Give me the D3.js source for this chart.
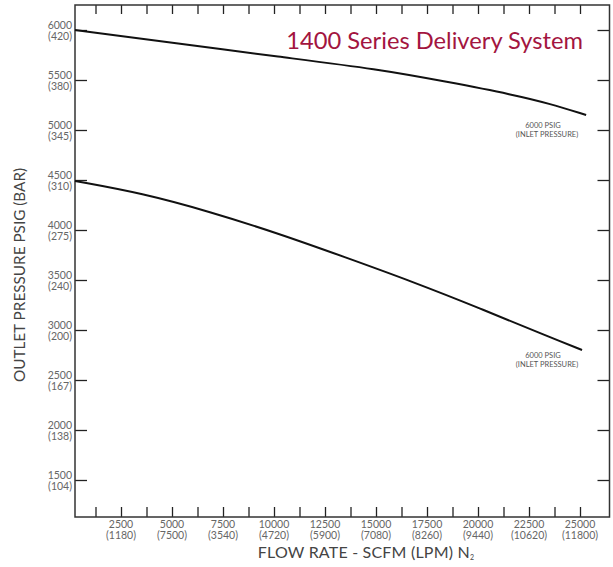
<!DOCTYPE html>
<html>
<head>
<meta charset="utf-8">
<script src="https://cdn.jsdelivr.net/npm/d3@7"></script>
<style>
  body { margin: 0; background: #fff; }
  text { font-family: Lato, "Open Sans", sans-serif; }
</style>
</head>
<body>
<div id="chart"></div>
<script>
// tick labels
var xTicks = [2500, 5000, 7500, 10000, 12500, 15000, 17500, 20000, 22500, 25000];
var xTickLpm = ["(1180)", "(7500)", "(3540)", "(4720)", "(5900)", "(7080)", "(8260)", "(9440)", "(10620)", "(11800)"];
var yTicks = [6000, 5500, 5000, 4500, 4000, 3500, 3000, 2500, 2000, 1500];
var yTickBar = ["(420)", "(380)", "(345)", "(310)", "(275)", "(240)", "(200)", "(167)", "(138)", "(104)"];

// curves (flow scfm, outlet psig)
var upperFlow = [245, 5200, 10200, 15150, 18450, 21800, 23450, 25300];
var upperPsig = [6000, 5867, 5733, 5607, 5483, 5350, 5267, 5150];
var lowerFlow = [245, 3550, 6850, 10200, 13500, 16800, 20100, 23450, 25100];
var lowerPsig = [4490, 4367, 4183, 3967, 3727, 3483, 3217, 2933, 2800];

var svgWidth = 613, svgHeight = 567;
var plotL = 75, plotR = 609.5, plotT = 5, plotB = 517;

var svg = d3.select("#chart").append("svg")
  .attr("width", svgWidth)
  .attr("height", svgHeight);

var x = d3.scaleLinear().domain([245, 26446]).range([plotL, plotR]);
var y = d3.scaleLinear().domain([1130, 6250]).range([plotB, plotT]);

// minor ticks every 1250 on x
var xMinor = d3.range(1250, 25001, 1250);

function cleanAxis(g) {
  g.select(".domain").remove();
  g.selectAll(".tick text").remove();
  g.selectAll(".tick line").attr("stroke", "#222").attr("stroke-width", 1.3);
}

svg.append("g")
  .attr("transform", `translate(0, ${plotB})`)
  .call(d3.axisTop(x).tickValues(xMinor).tickSize(10))
  .call(cleanAxis);

svg.append("g")
  .attr("transform", `translate(0, ${plotT})`)
  .call(d3.axisBottom(x).tickValues(xMinor).tickSize(9))
  .call(cleanAxis);

svg.append("g")
  .attr("transform", `translate(${plotL}, 0)`)
  .call(d3.axisRight(y).tickValues(yTicks).tickSize(12))
  .call(cleanAxis);

svg.append("g")
  .attr("transform", `translate(${plotR}, 0)`)
  .call(d3.axisLeft(y).tickValues(yTicks).tickSize(12))
  .call(cleanAxis);

// frame
svg.append("rect")
  .attr("x", plotL).attr("y", plotT)
  .attr("width", plotR - plotL).attr("height", plotB - plotT)
  .attr("fill", "none")
  .attr("stroke", "#333")
  .attr("stroke-width", 1.5);

// y tick labels (psig over bar)
var yLab = svg.append("g").attr("fill", "#666").attr("font-size", 10.5).attr("text-anchor", "end");
yLab.selectAll(".psig").data(yTicks).enter().append("text")
  .attr("x", 72).attr("y", d => y(d) - 1).text(d => d);
yLab.selectAll(".bar").data(yTickBar).enter().append("text")
  .attr("x", 72).attr("y", (d, i) => y(yTicks[i]) + 10).text(d => d);

// x tick labels (scfm over lpm)
var xLab = svg.append("g").attr("fill", "#666").attr("font-size", 10.5).attr("text-anchor", "middle");
xLab.selectAll(".scfm").data(xTicks).enter().append("text")
  .attr("x", d => x(d)).attr("y", plotB + 11).text(d => d);
xLab.selectAll(".lpm").data(xTickLpm).enter().append("text")
  .attr("x", (d, i) => x(xTicks[i])).attr("y", plotB + 22).text(d => d);

// axis titles
var xTitle = svg.append("text")
  .attr("x", 366).attr("y", 558)
  .attr("text-anchor", "middle")
  .attr("font-size", 16)
  .attr("letter-spacing", 0.2)
  .attr("fill", "#444")
  .text("FLOW RATE - SCFM (LPM) N");
xTitle.append("tspan").attr("font-size", 7).attr("dy", 2).text("2");

svg.append("text")
  .attr("transform", "translate(25, 275) rotate(-90)")
  .attr("text-anchor", "middle")
  .attr("font-size", 15.3)
  .attr("fill", "#444")
  .text("OUTLET PRESSURE PSIG (BAR)");

// title
svg.append("text")
  .attr("x", 583).attr("y", 49)
  .attr("text-anchor", "end")
  .attr("font-size", 23.7)
  .attr("fill", "#a3153f")
  .text("1400 Series Delivery System");

// curves
var line = d3.line()
  .x(d => x(d[0]))
  .y(d => y(d[1]))
  .curve(d3.curveBasis);

svg.append("path")
  .datum(d3.zip(upperFlow, upperPsig))
  .attr("d", line)
  .attr("fill", "none").attr("stroke", "#111").attr("stroke-width", 2);

svg.append("path")
  .datum(d3.zip(lowerFlow, lowerPsig))
  .attr("d", line)
  .attr("fill", "none").attr("stroke", "#111").attr("stroke-width", 2);

// curve labels
function curveLabel(yTop) {
  var g = svg.append("g").attr("fill", "#555").attr("font-size", 7.5).attr("text-anchor", "middle");
  g.append("text").attr("x", 543).attr("y", yTop).text("6000 PSIG");
  g.append("text").attr("x", 547).attr("y", yTop + 8.5).text("(INLET PRESSURE)");
}
curveLabel(128);
curveLabel(358);
</script>
</body>
</html>
